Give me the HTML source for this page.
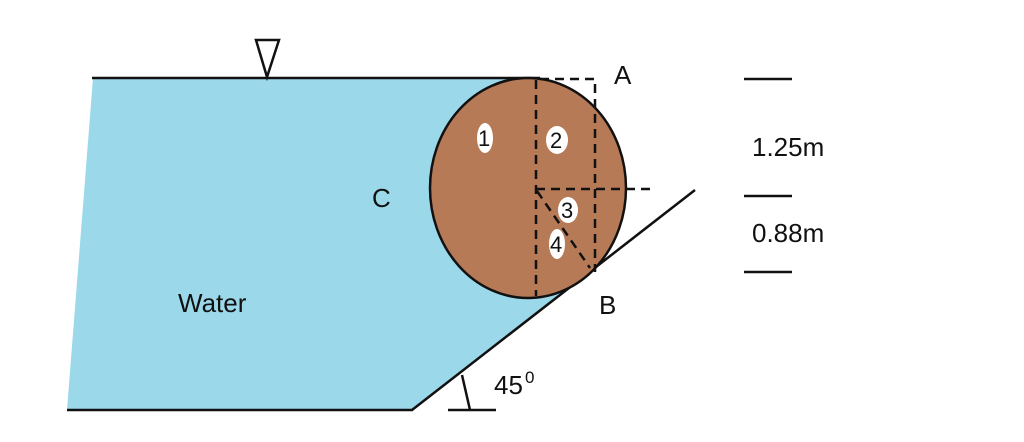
<!DOCTYPE html>
<html><head><meta charset="utf-8"><style>
html,body{margin:0;padding:0;background:#fff;}
svg{display:block;}
text{font-family:"Liberation Sans",sans-serif;fill:#111;}
</style></head><body>
<svg width="1024" height="442" viewBox="0 0 1024 442">
<polygon points="93,78 530,78 530,292 563,292 412,410 67,410" fill="#9bd8ea"/>
<line x1="92" y1="78" x2="540" y2="78" stroke="#111" stroke-width="2.5"/>
<line x1="67" y1="410" x2="413" y2="410" stroke="#111" stroke-width="2.5"/>
<line x1="412" y1="410" x2="695" y2="190" stroke="#111" stroke-width="2.5"/>
<ellipse cx="528" cy="188" rx="98" ry="110" fill="#b77a57" stroke="#111" stroke-width="2.5"/>
<g stroke="#111" stroke-width="2.5" stroke-dasharray="9,6" fill="none">
<line x1="536" y1="80" x2="536" y2="296"/>
<polyline points="540,79 595,79 595,272"/>
<line x1="536" y1="189" x2="655" y2="189"/>
<line x1="537" y1="191" x2="590" y2="268"/>
</g>
<polygon points="256,40 279,40 267,77" fill="none" stroke="#111" stroke-width="2.5"/>
<line x1="462" y1="375" x2="470" y2="410" stroke="#111" stroke-width="2.5"/>
<line x1="448" y1="410" x2="496" y2="410" stroke="#111" stroke-width="2.5"/>
<g fill="#fff">
<ellipse cx="485" cy="138" rx="8" ry="15"/>
<ellipse cx="557" cy="140" rx="11" ry="14"/>
<ellipse cx="568" cy="210" rx="10" ry="13"/>
<ellipse cx="557" cy="244" rx="8" ry="15"/>
</g>
<g font-size="22">
<text x="478" y="146">1</text>
<text x="550" y="148">2</text>
<text x="561" y="218">3</text>
<text x="550" y="252">4</text>
</g>
<g font-size="26">
<text x="614" y="84">A</text>
<text x="372" y="207">C</text>
<text x="599" y="314">B</text>
<text x="178" y="312">Water</text>
<text x="494" y="394">45</text>
<text x="525" y="383" font-size="17">0</text>
<text x="752" y="156">1.25m</text>
<text x="752" y="242">0.88m</text>
</g>
<g stroke="#111" stroke-width="2.5">
<line x1="744" y1="79" x2="792" y2="79"/>
<line x1="744" y1="196" x2="792" y2="196"/>
<line x1="744" y1="272" x2="792" y2="272"/>
</g>
</svg>
</body></html>
